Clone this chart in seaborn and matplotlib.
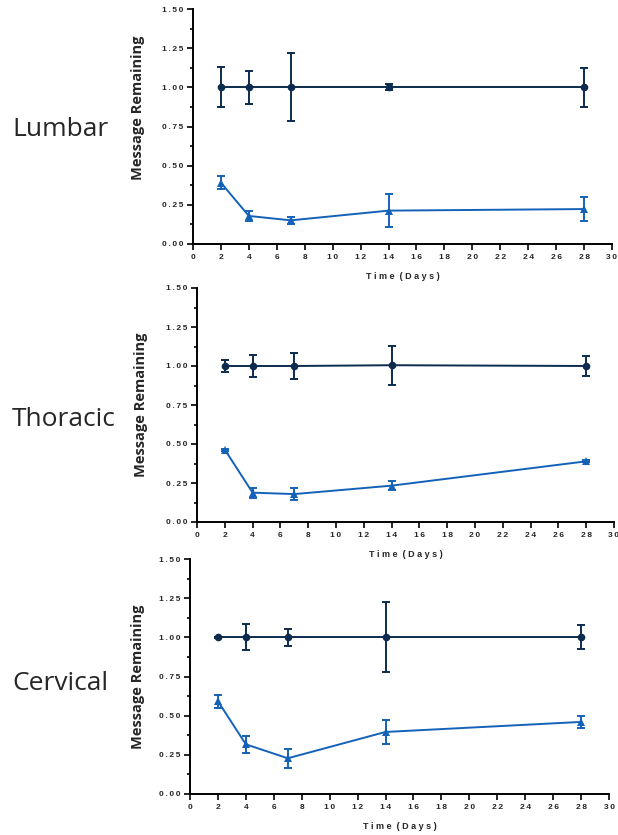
import numpy as np
import pandas as pd
import matplotlib
matplotlib.use("Agg")
import matplotlib.pyplot as plt
from matplotlib.ticker import MultipleLocator, FuncFormatter
import seaborn as sns

# Sampling days
days = [2, 4, 7, 14, 28]

# Regions shown, top to bottom
regions = ["Lumbar", "Thoracic", "Cervical"]

# Control series (normalised to 1) and its error
control_mean = {
    "Lumbar":   [1.00, 1.00, 1.00, 1.00, 1.00],
    "Thoracic": [1.00, 1.00, 1.00, 1.005, 1.00],
    "Cervical": [1.00, 1.00, 1.00, 1.00, 1.00],
}
control_err = {
    "Lumbar":   [0.127, 0.107, 0.216, 0.020, 0.126],
    "Thoracic": [0.040, 0.070, 0.082, 0.126, 0.064],
    "Cervical": [0.005, 0.083, 0.053, 0.224, 0.076],
}

# Treated series and its error
treated_mean = {
    "Lumbar":   [0.391, 0.179, 0.151, 0.213, 0.223],
    "Thoracic": [0.464, 0.188, 0.179, 0.233, 0.389],
    "Cervical": [0.592, 0.317, 0.228, 0.396, 0.460],
}
treated_err = {
    "Lumbar":   [0.042, 0.033, 0.023, 0.105, 0.077],
    "Thoracic": [0.006, 0.033, 0.038, 0.029, 0.006],
    "Cervical": [0.043, 0.053, 0.060, 0.075, 0.040],
}

x_ticks = list(range(0, 31, 2))
y_ticks = [0.00, 0.25, 0.50, 0.75, 1.00, 1.25, 1.50]

dark = "#0c2b4e"
blue = "#1462b8"

sns.set_theme(style="ticks")
plt.rcParams["font.family"] = ["DejaVu Sans"]

W, H = 618, 835
fig = plt.figure(figsize=(W / 100, H / 100), dpi=100)

# Panel boxes in pixels: left, right, top, bottom
boxes = [(193, 612, 9, 244), (197, 614, 288, 522), (190, 609, 559, 794)]
label_y = [130, 420, 683]
# y-label centre (fraction of axes height) and right edge in pixels
ylab_pos = [(0.58, 145), (0.50, 148), (0.50, 145)]

spaced = lambda s: "\u2009".join(s)
tick_font = ["Liberation Sans", "DejaVu Sans"]

for region, (l, r, t, b), ly, (yl_frac, yl_px) in zip(regions, boxes, label_y, ylab_pos):
    ax = fig.add_axes([l / W, (H - b) / H, (r - l) / W, (b - t) / H])

    df = pd.DataFrame({
        "Day": days * 2,
        "Value": control_mean[region] + treated_mean[region],
        "Group": ["Control"] * len(days) + ["Treated"] * len(days),
    })
    sns.lineplot(data=df, x="Day", y="Value", hue="Group", style="Group",
                 palette={"Control": dark, "Treated": blue},
                 markers={"Control": "o", "Treated": "^"}, dashes=False,
                 markersize=5.5, markeredgewidth=0, linewidth=1.4,
                 legend=False, ax=ax, zorder=3)
    ax.errorbar(days, control_mean[region], yerr=control_err[region],
                fmt="none", ecolor=dark, elinewidth=1.4, capsize=3,
                capthick=1.4, zorder=2)
    ax.errorbar(days, treated_mean[region], yerr=treated_err[region],
                fmt="none", ecolor=blue, elinewidth=1.4, capsize=3,
                capthick=1.4, zorder=2)

    ax.set_xlim(0, 30)
    ax.set_ylim(0, 1.5)
    ax.set_xticks(x_ticks)
    ax.set_yticks(y_ticks)
    ax.yaxis.set_minor_locator(MultipleLocator(0.125))
    ax.yaxis.set_major_formatter(FuncFormatter(lambda v, p: spaced(f"{v:.2f}")))
    ax.xaxis.set_major_formatter(FuncFormatter(lambda v, p: spaced(f"{v:.0f}")))
    ax.tick_params(axis="both", which="major", direction="out", length=4,
                   width=1.2, labelsize=6, pad=3, color="black")
    ax.tick_params(axis="y", which="minor", direction="out", length=2.5,
                   width=1.2, color="black")
    for lab in ax.get_xticklabels() + ax.get_yticklabels():
        lab.set_fontweight("bold")
        lab.set_family(tick_font)
    for s in ["left", "bottom"]:
        ax.spines[s].set_linewidth(1.4)
        ax.spines[s].set_color("black")
    sns.despine(ax=ax)

    ax.set_xlabel("T i m e  ( D a y s )", fontsize=6.5, fontweight="bold",
                  family="Liberation Sans", labelpad=8)
    ax.set_ylabel("Message Remaining", fontsize=10.5, fontweight="bold",
                  family="Open Sans")
    ax.yaxis.set_label_coords((yl_px - l) / (r - l), yl_frac)
    ax.grid(False)

    fig.text(12 / W, 1 - ly / H, region, fontsize=19, family="Open Sans",
             ha="left", va="center")

fig.savefig("out.png", dpi=100)
